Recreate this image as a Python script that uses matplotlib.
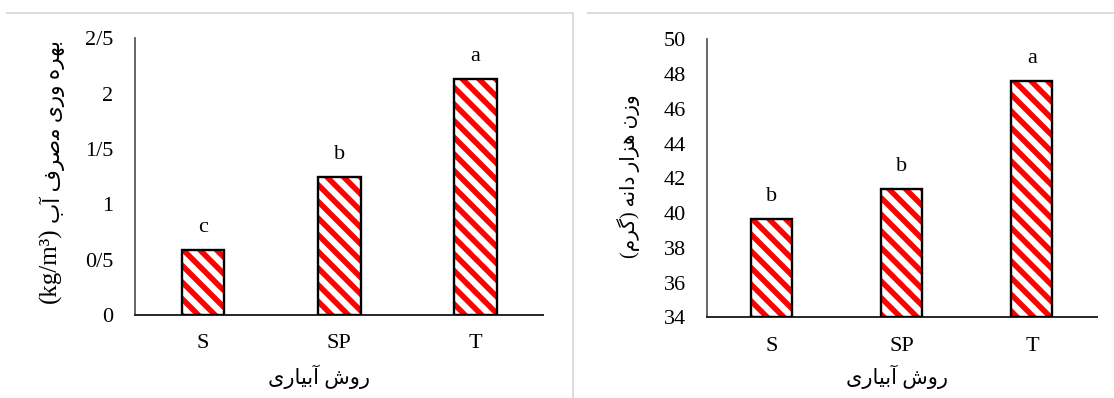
import matplotlib
matplotlib.use("Agg")
import matplotlib.pyplot as plt
from matplotlib.lines import Line2D

plt.rcParams['font.family'] = ['Liberation Serif', 'DejaVu Sans']
plt.rcParams['hatch.linewidth'] = 4.0

categories = ['S', 'SP', 'T']
wue_values = [0.587, 1.247, 2.132]
wue_letters = ['c', 'b', 'a']
wue_ticks = [0, 0.5, 1, 1.5, 2, 2.5]
wue_ticklabels = ['0', '0/5', '1', '1/5', '2', '2/5']

tkw_values = [39.67, 41.37, 47.6]
tkw_letters = ['b', 'b', 'a']
tkw_ticks = [34, 36, 38, 40, 42, 44, 46, 48, 50]
tkw_ticklabels = [str(t) for t in tkw_ticks]

# Persian texts in visual (presentation-form, left-to-right) order
xlabel_fa = '\uFEEF\uFEAD\uFE8E\uFEF4\uFE91\uFE81 \uFEB5\uFEED\uFEAD'  # روش آبیاری
wue_ylabel_fa = '\uFE8F\uFE81 \uFED1\uFEAE\uFEBB\uFEE3 \uFEEF\uFEAD\uFEED \uFEE9\uFEAE\uFEEC\uFE91'  # بهره وری مصرف آب
wue_unit = '(kg/m\u00B3)'
tkw_ylabel = '(\uFEE1\uFEAE\uFB94) \uFEEA\uFEE7\uFE8D\uFEA9 \uFEAD\uFE8D\uFEB0\uFEEB \uFEE5\uFEAF\uFEED'  # وزن هزار دانه (گرم)

W, H = 1114, 398
fig = plt.figure(figsize=(W / 100, H / 100), dpi=100)


def fx(px):
    return px / W


def fy(py):
    return 1 - py / H


# page frame lines
gray = '#d9d9d9'
fig.add_artist(Line2D([fx(7), fx(572.7)], [fy(12.7), fy(12.7)], color=gray, lw=1.3, transform=fig.transFigure))
fig.add_artist(Line2D([fx(572.7), fx(572.7)], [fy(12.7), 0], color=gray, lw=1.3, transform=fig.transFigure))
fig.add_artist(Line2D([fx(588), 1.0], [fy(12.7), fy(12.7)], color=gray, lw=1.3, transform=fig.transFigure))

ax1 = fig.add_axes([fx(135), fy(315), (543.3 - 135) / W, (315 - 38.3) / H])
ax2 = fig.add_axes([fx(706.7), fy(317.3), (1097 - 706.7) / W, (317.3 - 39.3) / H])


def draw(ax, values, letters, ticks, ticklabels, ylim, width, ypad):
    x = range(len(categories))
    bottom = ylim[0]
    heights = [v - bottom for v in values]
    ax.bar(x, heights, width=width, bottom=bottom, facecolor='white', edgecolor='#ff0000',
           hatch='\\\\', linewidth=0, zorder=2)
    ax.bar(x, heights, width=width, bottom=bottom, fill=False, edgecolor='black',
           linewidth=1.7, zorder=3)
    for xi, v, l in zip(x, values, letters):
        ax.annotate(l, (xi, v), xytext=(0, 13), textcoords='offset points',
                    ha='center', va='baseline', fontsize=16)
    ax.set_xlim(-0.5, len(categories) - 0.5)
    ax.set_ylim(*ylim)
    ax.set_yticks(ticks)
    ax.set_yticklabels(ticklabels, fontsize=16)
    ax.set_xticks(list(x))
    ax.set_xticklabels(categories, fontsize=16)
    ax.tick_params(axis='both', length=0)
    ax.tick_params(axis='y', pad=ypad)
    ax.tick_params(axis='x', pad=14)
    for s in ['top', 'right']:
        ax.spines[s].set_visible(False)
    ax.spines['left'].set_color('#595959')
    ax.spines['left'].set_linewidth(1.3)
    ax.spines['bottom'].set_color('#262626')
    ax.spines['bottom'].set_linewidth(1.4)


draw(ax1, wue_values, wue_letters, wue_ticks, wue_ticklabels, (0, 2.5), 0.314, 15.5)
draw(ax2, tkw_values, tkw_letters, tkw_ticks, tkw_ticklabels, (34, 50), 0.315, 15)

fig.text(fx(319), fy(377), xlabel_fa, ha='center', va='center', fontsize=15)
fig.text(fx(897), fy(377), xlabel_fa, ha='center', va='center', fontsize=15)
fig.text(fx(50), fy(303), wue_unit, ha='center', va='bottom', rotation=90, fontsize=18)
fig.text(fx(52), fy(40), wue_ylabel_fa, ha='center', va='top', rotation=90, fontsize=15.5)
fig.text(fx(629), fy(176.5), tkw_ylabel, ha='center', va='center', rotation=90, fontsize=14.5)

fig.savefig('out.png', dpi=100)
